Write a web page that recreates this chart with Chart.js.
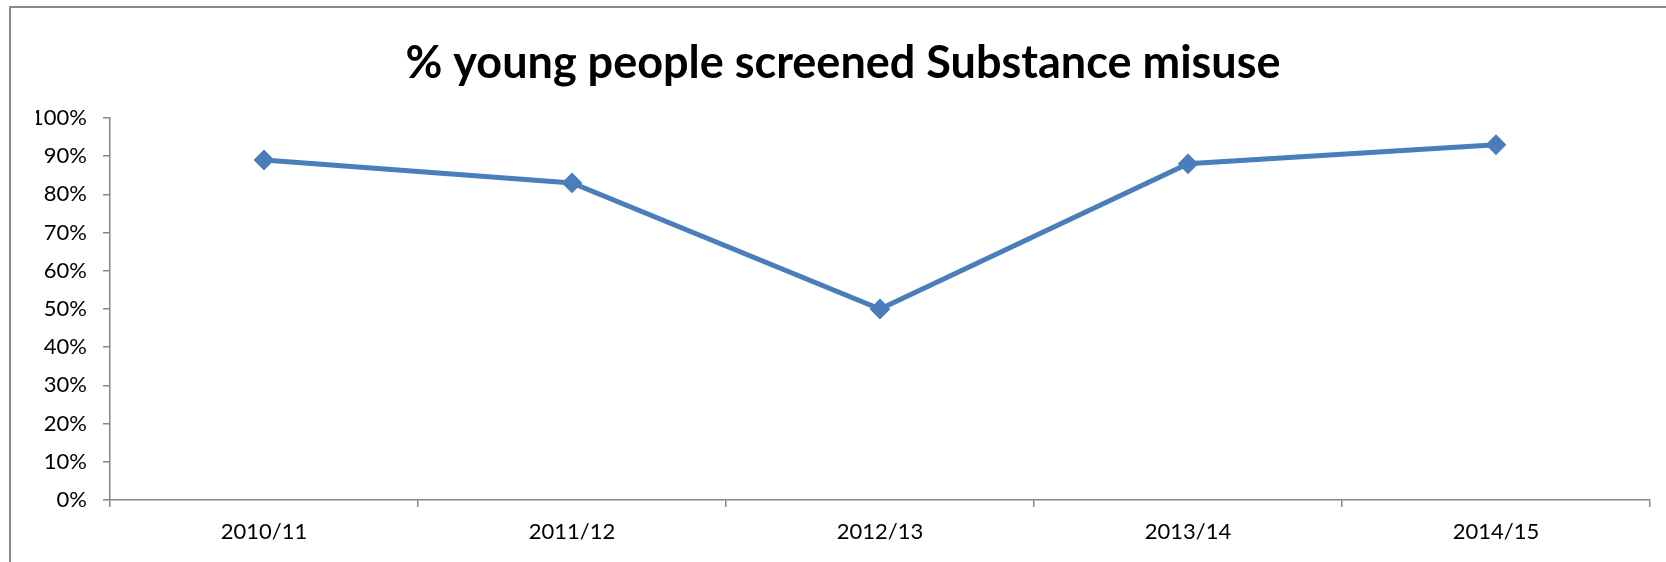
<!DOCTYPE html>
<html>
<head>
<meta charset="utf-8">
<script src="https://cdn.jsdelivr.net/npm/chart.js@4/dist/chart.umd.min.js"></script>
<style>
    html, body { margin: 0; padding: 0; background: #fff; }
    #wrap { position: relative; width: 1666px; height: 562px; }
    #frame {
        position: absolute; left: 9px; top: 6px; right: -10px; bottom: -10px;
        border-left: 2px solid #898989; border-top: 2px solid #898989;
        pointer-events: none;
    }
</style>
</head>
<body>
<div id="wrap">
    <canvas id="chart" width="1666" height="562"></canvas>
    <div id="frame"></div>
</div>
<script>
const titleText = '% young people screened Substance misuse';
const years = ['2010/11', '2011/12', '2012/13', '2013/14', '2014/15'];
const screenedPct = [89, 83, 50, 88, 93];

const axisGrey = '#868686';
const lineBlue = '#4a7ebb';
const fontFamily = 'Lato, "Open Sans", sans-serif';

const ctx = document.getElementById('chart').getContext('2d');
new Chart(ctx, {
    type: 'line',
    data: {
        labels: years,
        datasets: [{
            label: titleText,
            data: screenedPct,
            borderColor: lineBlue,
            backgroundColor: lineBlue,
            borderWidth: 5,
            pointStyle: 'rectRot',
            pointRadius: 9,
            pointBorderWidth: 2,
            pointBorderColor: lineBlue,
            pointBackgroundColor: lineBlue,
            tension: 0
        }]
    },
    options: {
        responsive: false,
        animation: false,
        // left padding pushes the title centre right, y axis width makes up for it
        layout: { padding: { left: 36, right: 16, top: 0, bottom: 0 } },
        plugins: {
            legend: { display: false },
            tooltip: { enabled: false },
            title: {
                display: true,
                text: titleText,
                color: '#000',
                font: { family: fontFamily, size: 45, weight: 'bold', lineHeight: 1.2 },
                padding: { top: 36, bottom: 28 }
            }
        },
        scales: {
            x: {
                offset: true,
                grid: {
                    offset: true,
                    drawOnChartArea: false,
                    drawTicks: true,
                    tickLength: 7,
                    color: axisGrey,
                    lineWidth: 1.5
                },
                border: { display: true, color: axisGrey, width: 1.5 },
                ticks: {
                    color: '#000',
                    padding: 12,
                    maxRotation: 0,
                    font: { family: fontFamily, size: 22 }
                },
                afterFit: function (scale) { scale.height = 62; }
            },
            y: {
                min: 0,
                max: 100,
                grid: {
                    drawOnChartArea: false,
                    drawTicks: true,
                    tickLength: 7,
                    color: axisGrey,
                    lineWidth: 1.5
                },
                border: { display: true, color: axisGrey, width: 1.5 },
                ticks: {
                    stepSize: 10,
                    color: '#000',
                    padding: 16,
                    font: { family: fontFamily, size: 22 },
                    callback: v => v + '%'
                },
                afterFit: function (scale) { scale.width = 74; }
            }
        }
    }
});
</script>
</body>
</html>
